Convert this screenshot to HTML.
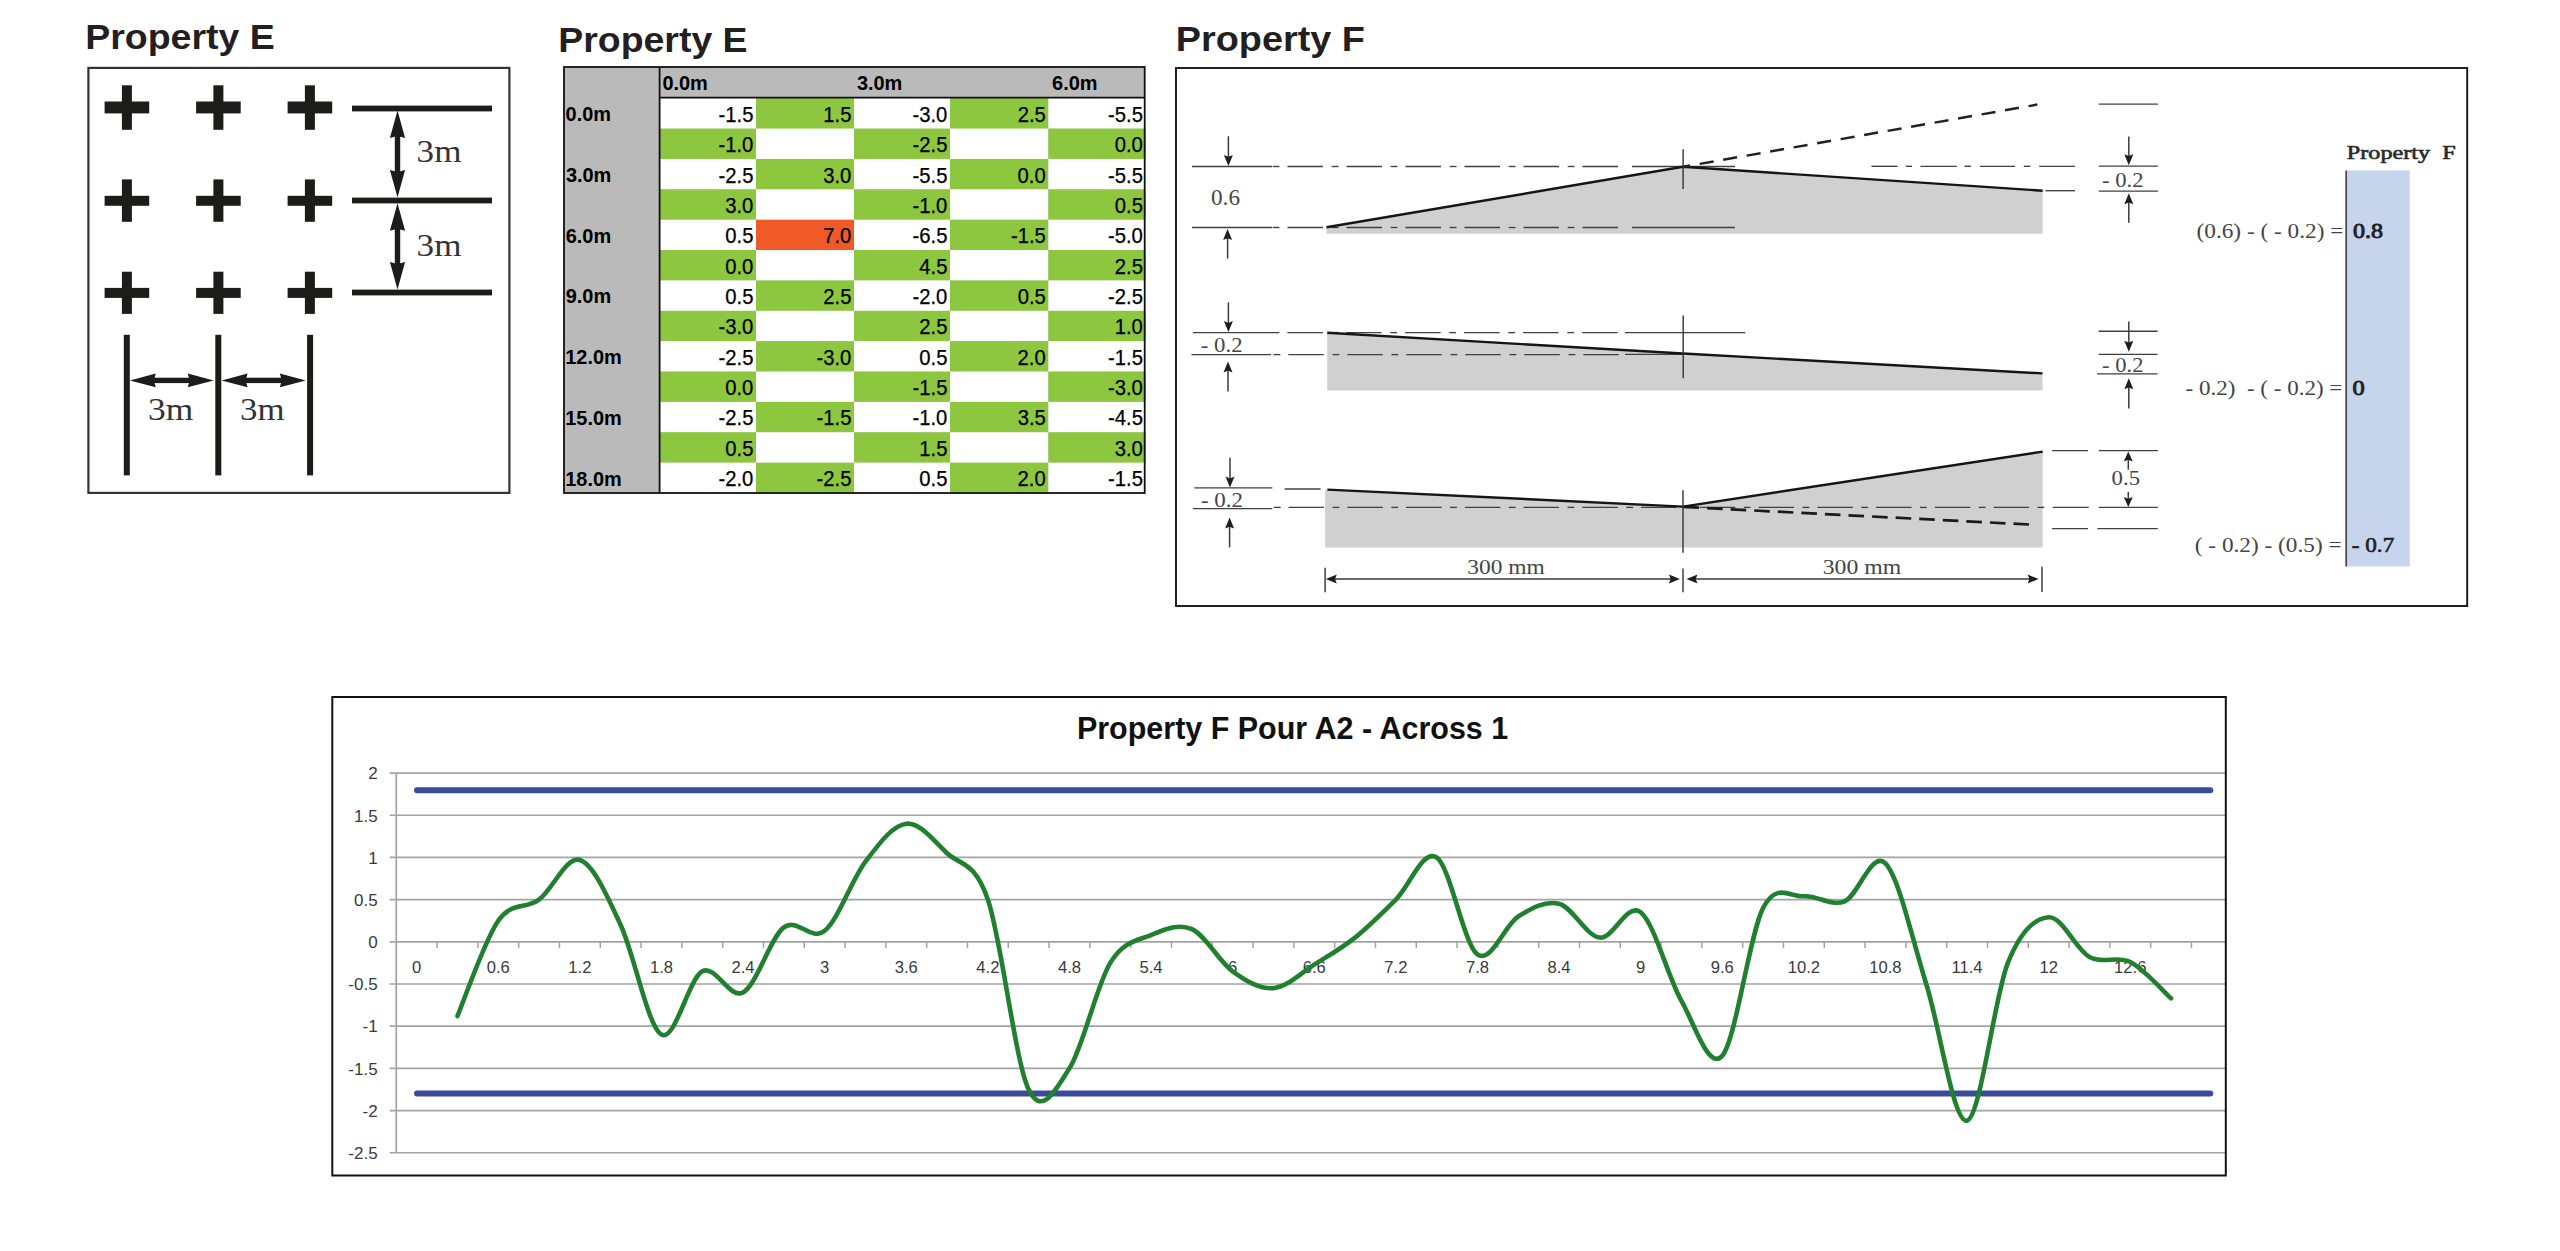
<!DOCTYPE html>
<html><head><meta charset="utf-8"><title>Property E / F</title>
<style>
html,body{margin:0;padding:0;background:#fff;}
body{width:2560px;height:1251px;overflow:hidden;font-family:"Liberation Sans",sans-serif;}
svg{display:block;}
</style></head>
<body>
<svg width="2560" height="1251" viewBox="0 0 2560 1251">
<rect width="2560" height="1251" fill="#fff"/>
<text x="85.16" y="49" font-family="'Liberation Sans', sans-serif" font-size="34.5" font-weight="bold" fill="#231f20" textLength="189.63" lengthAdjust="spacingAndGlyphs" >Property E</text>
<text x="558.27" y="51.8" font-family="'Liberation Sans', sans-serif" font-size="34.5" font-weight="bold" fill="#231f20" textLength="189.33" lengthAdjust="spacingAndGlyphs" >Property E</text>
<text x="1175.84" y="50.7" font-family="'Liberation Sans', sans-serif" font-size="34.5" font-weight="bold" fill="#231f20" textLength="189.02" lengthAdjust="spacingAndGlyphs" >Property F</text>
<rect x="88.4" y="67.9" width="421" height="425.0" fill="none" stroke="#333" stroke-width="2.2"/>
<rect x="104.6" y="101.5" width="44.6" height="11.9" fill="#1e1b1b" />
<rect x="121.9" y="85.3" width="10" height="44.5" fill="#1e1b1b" />
<rect x="196.1" y="101.5" width="44.6" height="11.9" fill="#1e1b1b" />
<rect x="213.4" y="85.3" width="10" height="44.5" fill="#1e1b1b" />
<rect x="287.6" y="101.5" width="44.6" height="11.9" fill="#1e1b1b" />
<rect x="304.9" y="85.3" width="10" height="44.5" fill="#1e1b1b" />
<rect x="104.6" y="195.8" width="44.6" height="10" fill="#1e1b1b" />
<rect x="121.9" y="179.4" width="10" height="42.4" fill="#1e1b1b" />
<rect x="196.1" y="195.8" width="44.6" height="10" fill="#1e1b1b" />
<rect x="213.4" y="179.4" width="10" height="42.4" fill="#1e1b1b" />
<rect x="287.6" y="195.8" width="44.6" height="10" fill="#1e1b1b" />
<rect x="304.9" y="179.4" width="10" height="42.4" fill="#1e1b1b" />
<rect x="104.6" y="287.9" width="44.6" height="10" fill="#1e1b1b" />
<rect x="121.9" y="271.7" width="10" height="42.2" fill="#1e1b1b" />
<rect x="196.1" y="287.9" width="44.6" height="10" fill="#1e1b1b" />
<rect x="213.4" y="271.7" width="10" height="42.2" fill="#1e1b1b" />
<rect x="287.6" y="287.9" width="44.6" height="10" fill="#1e1b1b" />
<rect x="304.9" y="271.7" width="10" height="42.2" fill="#1e1b1b" />
<rect x="352" y="105.6" width="140" height="5.8" fill="#1e1b1b" />
<rect x="352" y="197.6" width="140" height="5.8" fill="#1e1b1b" />
<rect x="352" y="289.6" width="140" height="5.8" fill="#1e1b1b" />
<rect x="394.8" y="132" width="5.4" height="44" fill="#1e1b1b" />
<polygon points="397.5,110.5 389.9,138 397.5,136 405.1,138" fill="#1e1b1b" />
<polygon points="397.5,197.5 389.9,170 397.5,172 405.1,170" fill="#1e1b1b" />
<rect x="394.8" y="224.7" width="5.4" height="43.4" fill="#1e1b1b" />
<polygon points="397.5,203.2 389.9,230.7 397.5,228.7 405.1,230.7" fill="#1e1b1b" />
<polygon points="397.5,289.6 389.9,262.1 397.5,264.1 405.1,262.1" fill="#1e1b1b" />
<rect x="123.8" y="334.8" width="6" height="140.6" fill="#1e1b1b" />
<rect x="215.3" y="334.8" width="6" height="140.6" fill="#1e1b1b" />
<rect x="307.1" y="334.8" width="6" height="140.6" fill="#1e1b1b" />
<rect x="149.8" y="377.7" width="43.9" height="5.4" fill="#1e1b1b" />
<polygon points="129.8,380.4 155.8,373.5 153.8,380.4 155.8,387.3" fill="#1e1b1b" />
<polygon points="213.7,380.4 187.7,373.5 189.7,380.4 187.7,387.3" fill="#1e1b1b" />
<rect x="241.6" y="377.7" width="44.2" height="5.4" fill="#1e1b1b" />
<polygon points="221.6,380.4 247.6,373.5 245.6,380.4 247.6,387.3" fill="#1e1b1b" />
<polygon points="305.8,380.4 279.8,373.5 281.8,380.4 279.8,387.3" fill="#1e1b1b" />
<text x="416.62" y="162.4" font-family="'Liberation Serif', serif" font-size="31.7" font-weight="normal" fill="#333333" textLength="44.83" lengthAdjust="spacingAndGlyphs" >3m</text>
<text x="416.62" y="256" font-family="'Liberation Serif', serif" font-size="31.7" font-weight="normal" fill="#333333" textLength="44.83" lengthAdjust="spacingAndGlyphs" >3m</text>
<text x="148.01" y="420" font-family="'Liberation Serif', serif" font-size="31.7" font-weight="normal" fill="#333333" textLength="45.25" lengthAdjust="spacingAndGlyphs" >3m</text>
<text x="240.13" y="420" font-family="'Liberation Serif', serif" font-size="31.7" font-weight="normal" fill="#333333" textLength="44.51" lengthAdjust="spacingAndGlyphs" >3m</text>
<rect x="564" y="67" width="580.7" height="426" fill="#bababa" />
<rect x="659.6" y="98.2" width="96.4" height="30.67" fill="#ffffff" />
<rect x="756" y="98.2" width="98" height="30.67" fill="#8dc63f" />
<rect x="854" y="98.2" width="96" height="30.67" fill="#ffffff" />
<rect x="950" y="98.2" width="98.4" height="30.67" fill="#8dc63f" />
<rect x="1048.4" y="98.2" width="97.1" height="30.67" fill="#ffffff" />
<rect x="659.6" y="128.57" width="96.4" height="30.67" fill="#8dc63f" />
<rect x="756" y="128.57" width="98" height="30.67" fill="#ffffff" />
<rect x="854" y="128.57" width="96" height="30.67" fill="#8dc63f" />
<rect x="950" y="128.57" width="98.4" height="30.67" fill="#ffffff" />
<rect x="1048.4" y="128.57" width="97.1" height="30.67" fill="#8dc63f" />
<rect x="659.6" y="158.94" width="96.4" height="30.67" fill="#ffffff" />
<rect x="756" y="158.94" width="98" height="30.67" fill="#8dc63f" />
<rect x="854" y="158.94" width="96" height="30.67" fill="#ffffff" />
<rect x="950" y="158.94" width="98.4" height="30.67" fill="#8dc63f" />
<rect x="1048.4" y="158.94" width="97.1" height="30.67" fill="#ffffff" />
<rect x="659.6" y="189.31" width="96.4" height="30.67" fill="#8dc63f" />
<rect x="756" y="189.31" width="98" height="30.67" fill="#ffffff" />
<rect x="854" y="189.31" width="96" height="30.67" fill="#8dc63f" />
<rect x="950" y="189.31" width="98.4" height="30.67" fill="#ffffff" />
<rect x="1048.4" y="189.31" width="97.1" height="30.67" fill="#8dc63f" />
<rect x="659.6" y="219.68" width="96.4" height="30.67" fill="#ffffff" />
<rect x="756" y="219.68" width="98" height="30.67" fill="#f05a28" />
<rect x="854" y="219.68" width="96" height="30.67" fill="#ffffff" />
<rect x="950" y="219.68" width="98.4" height="30.67" fill="#8dc63f" />
<rect x="1048.4" y="219.68" width="97.1" height="30.67" fill="#ffffff" />
<rect x="659.6" y="250.05" width="96.4" height="30.67" fill="#8dc63f" />
<rect x="756" y="250.05" width="98" height="30.67" fill="#ffffff" />
<rect x="854" y="250.05" width="96" height="30.67" fill="#8dc63f" />
<rect x="950" y="250.05" width="98.4" height="30.67" fill="#ffffff" />
<rect x="1048.4" y="250.05" width="97.1" height="30.67" fill="#8dc63f" />
<rect x="659.6" y="280.42" width="96.4" height="30.67" fill="#ffffff" />
<rect x="756" y="280.42" width="98" height="30.67" fill="#8dc63f" />
<rect x="854" y="280.42" width="96" height="30.67" fill="#ffffff" />
<rect x="950" y="280.42" width="98.4" height="30.67" fill="#8dc63f" />
<rect x="1048.4" y="280.42" width="97.1" height="30.67" fill="#ffffff" />
<rect x="659.6" y="310.78" width="96.4" height="30.67" fill="#8dc63f" />
<rect x="756" y="310.78" width="98" height="30.67" fill="#ffffff" />
<rect x="854" y="310.78" width="96" height="30.67" fill="#8dc63f" />
<rect x="950" y="310.78" width="98.4" height="30.67" fill="#ffffff" />
<rect x="1048.4" y="310.78" width="97.1" height="30.67" fill="#8dc63f" />
<rect x="659.6" y="341.15" width="96.4" height="30.67" fill="#ffffff" />
<rect x="756" y="341.15" width="98" height="30.67" fill="#8dc63f" />
<rect x="854" y="341.15" width="96" height="30.67" fill="#ffffff" />
<rect x="950" y="341.15" width="98.4" height="30.67" fill="#8dc63f" />
<rect x="1048.4" y="341.15" width="97.1" height="30.67" fill="#ffffff" />
<rect x="659.6" y="371.52" width="96.4" height="30.67" fill="#8dc63f" />
<rect x="756" y="371.52" width="98" height="30.67" fill="#ffffff" />
<rect x="854" y="371.52" width="96" height="30.67" fill="#8dc63f" />
<rect x="950" y="371.52" width="98.4" height="30.67" fill="#ffffff" />
<rect x="1048.4" y="371.52" width="97.1" height="30.67" fill="#8dc63f" />
<rect x="659.6" y="401.89" width="96.4" height="30.67" fill="#ffffff" />
<rect x="756" y="401.89" width="98" height="30.67" fill="#8dc63f" />
<rect x="854" y="401.89" width="96" height="30.67" fill="#ffffff" />
<rect x="950" y="401.89" width="98.4" height="30.67" fill="#8dc63f" />
<rect x="1048.4" y="401.89" width="97.1" height="30.67" fill="#ffffff" />
<rect x="659.6" y="432.26" width="96.4" height="30.67" fill="#8dc63f" />
<rect x="756" y="432.26" width="98" height="30.67" fill="#ffffff" />
<rect x="854" y="432.26" width="96" height="30.67" fill="#8dc63f" />
<rect x="950" y="432.26" width="98.4" height="30.67" fill="#ffffff" />
<rect x="1048.4" y="432.26" width="97.1" height="30.67" fill="#8dc63f" />
<rect x="659.6" y="462.63" width="96.4" height="30.67" fill="#ffffff" />
<rect x="756" y="462.63" width="98" height="30.67" fill="#8dc63f" />
<rect x="854" y="462.63" width="96" height="30.67" fill="#ffffff" />
<rect x="950" y="462.63" width="98.4" height="30.67" fill="#8dc63f" />
<rect x="1048.4" y="462.63" width="97.1" height="30.67" fill="#ffffff" />
<text x="718.61" y="121.8" font-family="'Liberation Sans', sans-serif" font-size="21.3" font-weight="normal" fill="#000" textLength="34.87" lengthAdjust="spacingAndGlyphs" stroke="#000" stroke-width="0.25">-1.5</text>
<text x="823.28" y="121.8" font-family="'Liberation Sans', sans-serif" font-size="21.3" font-weight="normal" fill="#000" textLength="28.13" lengthAdjust="spacingAndGlyphs" stroke="#000" stroke-width="0.25">1.5</text>
<text x="912.5" y="121.8" font-family="'Liberation Sans', sans-serif" font-size="21.3" font-weight="normal" fill="#000" textLength="34.87" lengthAdjust="spacingAndGlyphs" stroke="#000" stroke-width="0.25">-3.0</text>
<text x="1017.68" y="121.8" font-family="'Liberation Sans', sans-serif" font-size="21.3" font-weight="normal" fill="#000" textLength="28.13" lengthAdjust="spacingAndGlyphs" stroke="#000" stroke-width="0.25">2.5</text>
<text x="1108.11" y="121.8" font-family="'Liberation Sans', sans-serif" font-size="21.3" font-weight="normal" fill="#000" textLength="34.87" lengthAdjust="spacingAndGlyphs" stroke="#000" stroke-width="0.25">-5.5</text>
<text x="565.6" y="121.2" font-family="'Liberation Sans', sans-serif" font-size="21" font-weight="bold" fill="#000" textLength="45.47" lengthAdjust="spacingAndGlyphs" >0.0m</text>
<text x="718.5" y="152.17" font-family="'Liberation Sans', sans-serif" font-size="21.3" font-weight="normal" fill="#000" textLength="34.87" lengthAdjust="spacingAndGlyphs" stroke="#000" stroke-width="0.25">-1.0</text>
<text x="912.61" y="152.17" font-family="'Liberation Sans', sans-serif" font-size="21.3" font-weight="normal" fill="#000" textLength="34.87" lengthAdjust="spacingAndGlyphs" stroke="#000" stroke-width="0.25">-2.5</text>
<text x="1114.68" y="152.17" font-family="'Liberation Sans', sans-serif" font-size="21.3" font-weight="normal" fill="#000" textLength="28.13" lengthAdjust="spacingAndGlyphs" stroke="#000" stroke-width="0.25">0.0</text>
<text x="718.61" y="182.54" font-family="'Liberation Sans', sans-serif" font-size="21.3" font-weight="normal" fill="#000" textLength="34.87" lengthAdjust="spacingAndGlyphs" stroke="#000" stroke-width="0.25">-2.5</text>
<text x="823.18" y="182.54" font-family="'Liberation Sans', sans-serif" font-size="21.3" font-weight="normal" fill="#000" textLength="28.13" lengthAdjust="spacingAndGlyphs" stroke="#000" stroke-width="0.25">3.0</text>
<text x="912.61" y="182.54" font-family="'Liberation Sans', sans-serif" font-size="21.3" font-weight="normal" fill="#000" textLength="34.87" lengthAdjust="spacingAndGlyphs" stroke="#000" stroke-width="0.25">-5.5</text>
<text x="1017.58" y="182.54" font-family="'Liberation Sans', sans-serif" font-size="21.3" font-weight="normal" fill="#000" textLength="28.13" lengthAdjust="spacingAndGlyphs" stroke="#000" stroke-width="0.25">0.0</text>
<text x="1108.11" y="182.54" font-family="'Liberation Sans', sans-serif" font-size="21.3" font-weight="normal" fill="#000" textLength="34.87" lengthAdjust="spacingAndGlyphs" stroke="#000" stroke-width="0.25">-5.5</text>
<text x="565.9" y="181.94" font-family="'Liberation Sans', sans-serif" font-size="21" font-weight="bold" fill="#000" textLength="45.47" lengthAdjust="spacingAndGlyphs" >3.0m</text>
<text x="725.18" y="212.91" font-family="'Liberation Sans', sans-serif" font-size="21.3" font-weight="normal" fill="#000" textLength="28.13" lengthAdjust="spacingAndGlyphs" stroke="#000" stroke-width="0.25">3.0</text>
<text x="912.5" y="212.91" font-family="'Liberation Sans', sans-serif" font-size="21.3" font-weight="normal" fill="#000" textLength="34.87" lengthAdjust="spacingAndGlyphs" stroke="#000" stroke-width="0.25">-1.0</text>
<text x="1114.78" y="212.91" font-family="'Liberation Sans', sans-serif" font-size="21.3" font-weight="normal" fill="#000" textLength="28.13" lengthAdjust="spacingAndGlyphs" stroke="#000" stroke-width="0.25">0.5</text>
<text x="725.28" y="243.28" font-family="'Liberation Sans', sans-serif" font-size="21.3" font-weight="normal" fill="#000" textLength="28.13" lengthAdjust="spacingAndGlyphs" stroke="#000" stroke-width="0.25">0.5</text>
<text x="823.18" y="243.28" font-family="'Liberation Sans', sans-serif" font-size="21.3" font-weight="normal" fill="#000" textLength="28.13" lengthAdjust="spacingAndGlyphs" stroke="#000" stroke-width="0.25">7.0</text>
<text x="912.61" y="243.28" font-family="'Liberation Sans', sans-serif" font-size="21.3" font-weight="normal" fill="#000" textLength="34.87" lengthAdjust="spacingAndGlyphs" stroke="#000" stroke-width="0.25">-6.5</text>
<text x="1011.01" y="243.28" font-family="'Liberation Sans', sans-serif" font-size="21.3" font-weight="normal" fill="#000" textLength="34.87" lengthAdjust="spacingAndGlyphs" stroke="#000" stroke-width="0.25">-1.5</text>
<text x="1108" y="243.28" font-family="'Liberation Sans', sans-serif" font-size="21.3" font-weight="normal" fill="#000" textLength="34.87" lengthAdjust="spacingAndGlyphs" stroke="#000" stroke-width="0.25">-5.0</text>
<text x="565.7" y="242.68" font-family="'Liberation Sans', sans-serif" font-size="21" font-weight="bold" fill="#000" textLength="45.47" lengthAdjust="spacingAndGlyphs" >6.0m</text>
<text x="725.18" y="273.65" font-family="'Liberation Sans', sans-serif" font-size="21.3" font-weight="normal" fill="#000" textLength="28.13" lengthAdjust="spacingAndGlyphs" stroke="#000" stroke-width="0.25">0.0</text>
<text x="919.28" y="273.65" font-family="'Liberation Sans', sans-serif" font-size="21.3" font-weight="normal" fill="#000" textLength="28.13" lengthAdjust="spacingAndGlyphs" stroke="#000" stroke-width="0.25">4.5</text>
<text x="1114.78" y="273.65" font-family="'Liberation Sans', sans-serif" font-size="21.3" font-weight="normal" fill="#000" textLength="28.13" lengthAdjust="spacingAndGlyphs" stroke="#000" stroke-width="0.25">2.5</text>
<text x="725.28" y="304.02" font-family="'Liberation Sans', sans-serif" font-size="21.3" font-weight="normal" fill="#000" textLength="28.13" lengthAdjust="spacingAndGlyphs" stroke="#000" stroke-width="0.25">0.5</text>
<text x="823.28" y="304.02" font-family="'Liberation Sans', sans-serif" font-size="21.3" font-weight="normal" fill="#000" textLength="28.13" lengthAdjust="spacingAndGlyphs" stroke="#000" stroke-width="0.25">2.5</text>
<text x="912.5" y="304.02" font-family="'Liberation Sans', sans-serif" font-size="21.3" font-weight="normal" fill="#000" textLength="34.87" lengthAdjust="spacingAndGlyphs" stroke="#000" stroke-width="0.25">-2.0</text>
<text x="1017.68" y="304.02" font-family="'Liberation Sans', sans-serif" font-size="21.3" font-weight="normal" fill="#000" textLength="28.13" lengthAdjust="spacingAndGlyphs" stroke="#000" stroke-width="0.25">0.5</text>
<text x="1108.11" y="304.02" font-family="'Liberation Sans', sans-serif" font-size="21.3" font-weight="normal" fill="#000" textLength="34.87" lengthAdjust="spacingAndGlyphs" stroke="#000" stroke-width="0.25">-2.5</text>
<text x="565.7" y="303.42" font-family="'Liberation Sans', sans-serif" font-size="21" font-weight="bold" fill="#000" textLength="45.47" lengthAdjust="spacingAndGlyphs" >9.0m</text>
<text x="718.5" y="334.38" font-family="'Liberation Sans', sans-serif" font-size="21.3" font-weight="normal" fill="#000" textLength="34.87" lengthAdjust="spacingAndGlyphs" stroke="#000" stroke-width="0.25">-3.0</text>
<text x="919.28" y="334.38" font-family="'Liberation Sans', sans-serif" font-size="21.3" font-weight="normal" fill="#000" textLength="28.13" lengthAdjust="spacingAndGlyphs" stroke="#000" stroke-width="0.25">2.5</text>
<text x="1114.68" y="334.38" font-family="'Liberation Sans', sans-serif" font-size="21.3" font-weight="normal" fill="#000" textLength="28.13" lengthAdjust="spacingAndGlyphs" stroke="#000" stroke-width="0.25">1.0</text>
<text x="718.61" y="364.75" font-family="'Liberation Sans', sans-serif" font-size="21.3" font-weight="normal" fill="#000" textLength="34.87" lengthAdjust="spacingAndGlyphs" stroke="#000" stroke-width="0.25">-2.5</text>
<text x="816.5" y="364.75" font-family="'Liberation Sans', sans-serif" font-size="21.3" font-weight="normal" fill="#000" textLength="34.87" lengthAdjust="spacingAndGlyphs" stroke="#000" stroke-width="0.25">-3.0</text>
<text x="919.28" y="364.75" font-family="'Liberation Sans', sans-serif" font-size="21.3" font-weight="normal" fill="#000" textLength="28.13" lengthAdjust="spacingAndGlyphs" stroke="#000" stroke-width="0.25">0.5</text>
<text x="1017.58" y="364.75" font-family="'Liberation Sans', sans-serif" font-size="21.3" font-weight="normal" fill="#000" textLength="28.13" lengthAdjust="spacingAndGlyphs" stroke="#000" stroke-width="0.25">2.0</text>
<text x="1108.11" y="364.75" font-family="'Liberation Sans', sans-serif" font-size="21.3" font-weight="normal" fill="#000" textLength="34.87" lengthAdjust="spacingAndGlyphs" stroke="#000" stroke-width="0.25">-1.5</text>
<text x="565.2" y="364.15" font-family="'Liberation Sans', sans-serif" font-size="21" font-weight="bold" fill="#000" textLength="56.57" lengthAdjust="spacingAndGlyphs" >12.0m</text>
<text x="725.18" y="395.12" font-family="'Liberation Sans', sans-serif" font-size="21.3" font-weight="normal" fill="#000" textLength="28.13" lengthAdjust="spacingAndGlyphs" stroke="#000" stroke-width="0.25">0.0</text>
<text x="912.61" y="395.12" font-family="'Liberation Sans', sans-serif" font-size="21.3" font-weight="normal" fill="#000" textLength="34.87" lengthAdjust="spacingAndGlyphs" stroke="#000" stroke-width="0.25">-1.5</text>
<text x="1108" y="395.12" font-family="'Liberation Sans', sans-serif" font-size="21.3" font-weight="normal" fill="#000" textLength="34.87" lengthAdjust="spacingAndGlyphs" stroke="#000" stroke-width="0.25">-3.0</text>
<text x="718.61" y="425.49" font-family="'Liberation Sans', sans-serif" font-size="21.3" font-weight="normal" fill="#000" textLength="34.87" lengthAdjust="spacingAndGlyphs" stroke="#000" stroke-width="0.25">-2.5</text>
<text x="816.61" y="425.49" font-family="'Liberation Sans', sans-serif" font-size="21.3" font-weight="normal" fill="#000" textLength="34.87" lengthAdjust="spacingAndGlyphs" stroke="#000" stroke-width="0.25">-1.5</text>
<text x="912.5" y="425.49" font-family="'Liberation Sans', sans-serif" font-size="21.3" font-weight="normal" fill="#000" textLength="34.87" lengthAdjust="spacingAndGlyphs" stroke="#000" stroke-width="0.25">-1.0</text>
<text x="1017.68" y="425.49" font-family="'Liberation Sans', sans-serif" font-size="21.3" font-weight="normal" fill="#000" textLength="28.13" lengthAdjust="spacingAndGlyphs" stroke="#000" stroke-width="0.25">3.5</text>
<text x="1108.11" y="425.49" font-family="'Liberation Sans', sans-serif" font-size="21.3" font-weight="normal" fill="#000" textLength="34.87" lengthAdjust="spacingAndGlyphs" stroke="#000" stroke-width="0.25">-4.5</text>
<text x="565.2" y="424.89" font-family="'Liberation Sans', sans-serif" font-size="21" font-weight="bold" fill="#000" textLength="56.57" lengthAdjust="spacingAndGlyphs" >15.0m</text>
<text x="725.28" y="455.86" font-family="'Liberation Sans', sans-serif" font-size="21.3" font-weight="normal" fill="#000" textLength="28.13" lengthAdjust="spacingAndGlyphs" stroke="#000" stroke-width="0.25">0.5</text>
<text x="919.28" y="455.86" font-family="'Liberation Sans', sans-serif" font-size="21.3" font-weight="normal" fill="#000" textLength="28.13" lengthAdjust="spacingAndGlyphs" stroke="#000" stroke-width="0.25">1.5</text>
<text x="1114.68" y="455.86" font-family="'Liberation Sans', sans-serif" font-size="21.3" font-weight="normal" fill="#000" textLength="28.13" lengthAdjust="spacingAndGlyphs" stroke="#000" stroke-width="0.25">3.0</text>
<text x="718.5" y="486.23" font-family="'Liberation Sans', sans-serif" font-size="21.3" font-weight="normal" fill="#000" textLength="34.87" lengthAdjust="spacingAndGlyphs" stroke="#000" stroke-width="0.25">-2.0</text>
<text x="816.61" y="486.23" font-family="'Liberation Sans', sans-serif" font-size="21.3" font-weight="normal" fill="#000" textLength="34.87" lengthAdjust="spacingAndGlyphs" stroke="#000" stroke-width="0.25">-2.5</text>
<text x="919.28" y="486.23" font-family="'Liberation Sans', sans-serif" font-size="21.3" font-weight="normal" fill="#000" textLength="28.13" lengthAdjust="spacingAndGlyphs" stroke="#000" stroke-width="0.25">0.5</text>
<text x="1017.58" y="486.23" font-family="'Liberation Sans', sans-serif" font-size="21.3" font-weight="normal" fill="#000" textLength="28.13" lengthAdjust="spacingAndGlyphs" stroke="#000" stroke-width="0.25">2.0</text>
<text x="1108.11" y="486.23" font-family="'Liberation Sans', sans-serif" font-size="21.3" font-weight="normal" fill="#000" textLength="34.87" lengthAdjust="spacingAndGlyphs" stroke="#000" stroke-width="0.25">-1.5</text>
<text x="565.2" y="485.63" font-family="'Liberation Sans', sans-serif" font-size="21" font-weight="bold" fill="#000" textLength="56.57" lengthAdjust="spacingAndGlyphs" >18.0m</text>
<text x="662.4" y="90.3" font-family="'Liberation Sans', sans-serif" font-size="21" font-weight="bold" fill="#000" textLength="45.47" lengthAdjust="spacingAndGlyphs" >0.0m</text>
<text x="856.9" y="90.3" font-family="'Liberation Sans', sans-serif" font-size="21" font-weight="bold" fill="#000" textLength="45.47" lengthAdjust="spacingAndGlyphs" >3.0m</text>
<text x="1052.1" y="90.3" font-family="'Liberation Sans', sans-serif" font-size="21" font-weight="bold" fill="#000" textLength="45.47" lengthAdjust="spacingAndGlyphs" >6.0m</text>
<line x1="659.6" y1="67" x2="659.6" y2="493" stroke="#111" stroke-width="1.8" />
<line x1="659.6" y1="97.6" x2="1144.7" y2="97.6" stroke="#111" stroke-width="1.6" />
<rect x="564" y="67" width="580.7" height="426" fill="none" stroke="#111" stroke-width="1.8"/>
<rect x="1176" y="68" width="1291.2" height="538" fill="none" stroke="#151515" stroke-width="1.9"/>
<polygon points="1326.5,227.3 1683,166.8 2042.7,190.7 2042.7,233.8 1326.5,233.8" fill="#d0d0d0" />
<line x1="1192" y1="166.5" x2="1272" y2="166.5" stroke="#404040" stroke-width="1.35" />
<line x1="1272.7" y1="166.5" x2="1279.5" y2="166.5" stroke="#404040" stroke-width="1.35" />
<line x1="1287.5" y1="166.5" x2="1323" y2="166.5" stroke="#404040" stroke-width="1.35" />
<line x1="1331.7" y1="166.5" x2="1338.5" y2="166.5" stroke="#404040" stroke-width="1.35" />
<line x1="1346.5" y1="166.5" x2="1382" y2="166.5" stroke="#404040" stroke-width="1.35" />
<line x1="1390.7" y1="166.5" x2="1397.5" y2="166.5" stroke="#404040" stroke-width="1.35" />
<line x1="1405.5" y1="166.5" x2="1441" y2="166.5" stroke="#404040" stroke-width="1.35" />
<line x1="1449.7" y1="166.5" x2="1456.5" y2="166.5" stroke="#404040" stroke-width="1.35" />
<line x1="1464.5" y1="166.5" x2="1500" y2="166.5" stroke="#404040" stroke-width="1.35" />
<line x1="1508.7" y1="166.5" x2="1515.5" y2="166.5" stroke="#404040" stroke-width="1.35" />
<line x1="1523.5" y1="166.5" x2="1559" y2="166.5" stroke="#404040" stroke-width="1.35" />
<line x1="1567.7" y1="166.5" x2="1574.5" y2="166.5" stroke="#404040" stroke-width="1.35" />
<line x1="1582.5" y1="166.5" x2="1618" y2="166.5" stroke="#404040" stroke-width="1.35" />
<line x1="1632" y1="166.5" x2="1735" y2="166.5" stroke="#404040" stroke-width="1.35" />
<line x1="1871.5" y1="166.3" x2="1897.5" y2="166.3" stroke="#404040" stroke-width="1.35" />
<line x1="1906" y1="166.3" x2="1912" y2="166.3" stroke="#404040" stroke-width="1.35" />
<line x1="1920.5" y1="166.3" x2="1956.9" y2="166.3" stroke="#404040" stroke-width="1.35" />
<line x1="1964.5" y1="166.3" x2="1971" y2="166.3" stroke="#404040" stroke-width="1.35" />
<line x1="1979.9" y1="166.3" x2="2015" y2="166.3" stroke="#404040" stroke-width="1.35" />
<line x1="2023.8" y1="166.3" x2="2030.3" y2="166.3" stroke="#404040" stroke-width="1.35" />
<line x1="2039.2" y1="166.3" x2="2075" y2="166.3" stroke="#404040" stroke-width="1.35" />
<line x1="1192" y1="227.5" x2="1272" y2="227.5" stroke="#404040" stroke-width="1.35" />
<line x1="1272.7" y1="227.5" x2="1279.5" y2="227.5" stroke="#404040" stroke-width="1.35" />
<line x1="1287.5" y1="227.5" x2="1323" y2="227.5" stroke="#404040" stroke-width="1.35" />
<line x1="1331.7" y1="227.5" x2="1338.5" y2="227.5" stroke="#404040" stroke-width="1.35" />
<line x1="1346.5" y1="227.5" x2="1382" y2="227.5" stroke="#404040" stroke-width="1.35" />
<line x1="1390.7" y1="227.5" x2="1397.5" y2="227.5" stroke="#404040" stroke-width="1.35" />
<line x1="1405.5" y1="227.5" x2="1441" y2="227.5" stroke="#404040" stroke-width="1.35" />
<line x1="1449.7" y1="227.5" x2="1456.5" y2="227.5" stroke="#404040" stroke-width="1.35" />
<line x1="1464.5" y1="227.5" x2="1500" y2="227.5" stroke="#404040" stroke-width="1.35" />
<line x1="1508.7" y1="227.5" x2="1515.5" y2="227.5" stroke="#404040" stroke-width="1.35" />
<line x1="1523.5" y1="227.5" x2="1559" y2="227.5" stroke="#404040" stroke-width="1.35" />
<line x1="1567.7" y1="227.5" x2="1574.5" y2="227.5" stroke="#404040" stroke-width="1.35" />
<line x1="1582.5" y1="227.5" x2="1618" y2="227.5" stroke="#404040" stroke-width="1.35" />
<line x1="1632" y1="227.5" x2="1735" y2="227.5" stroke="#404040" stroke-width="1.35" />
<line x1="2045.5" y1="190.7" x2="2075" y2="190.7" stroke="#404040" stroke-width="1.35" />
<polyline points="1326.5,227.3 1683,166.8 2042.7,190.7" fill="none" stroke="#151515" stroke-width="2.45" stroke-linejoin="round"/>
<line x1="1683" y1="166.8" x2="2037.3" y2="104.6" stroke="#222" stroke-width="2.5" stroke-dasharray="14.1 9.75" stroke-dashoffset="6.9"/>
<line x1="1683.1" y1="149.2" x2="1683.1" y2="189" stroke="#333" stroke-width="1.4" />
<line x1="1228.4" y1="136.2" x2="1228.4" y2="158.9" stroke="#3a3a3a" stroke-width="1.5" />
<polygon points="1228.4,165.9 1223.9,154.9 1228.4,156.7 1232.9,154.9" fill="#1e1e1e" />
<line x1="1227.6" y1="258.5" x2="1227.6" y2="236.1" stroke="#3a3a3a" stroke-width="1.5" />
<polygon points="1227.6,229.1 1223.1,240.1 1227.6,238.3 1232.1,240.1" fill="#1e1e1e" />
<text x="1210.97" y="205.1" font-family="'Liberation Serif', serif" font-size="23.2" font-weight="normal" fill="#454545" textLength="29.03" lengthAdjust="spacingAndGlyphs" >0.6</text>
<line x1="2098.8" y1="104.1" x2="2157.9" y2="104.1" stroke="#404040" stroke-width="1.35" />
<line x1="2098.8" y1="166.1" x2="2157.9" y2="166.1" stroke="#404040" stroke-width="1.35" />
<line x1="2098.8" y1="191.1" x2="2157.9" y2="191.1" stroke="#404040" stroke-width="1.35" />
<line x1="2128.8" y1="136.6" x2="2128.8" y2="158.3" stroke="#3a3a3a" stroke-width="1.5" />
<polygon points="2128.8,165.3 2124.3,154.3 2128.8,156.1 2133.3,154.3" fill="#1e1e1e" />
<line x1="2128.8" y1="222.7" x2="2128.8" y2="200.2" stroke="#3a3a3a" stroke-width="1.5" />
<polygon points="2128.8,193.2 2124.3,204.2 2128.8,202.4 2133.3,204.2" fill="#1e1e1e" />
<text x="2102.11" y="186.6" font-family="'Liberation Serif', serif" font-size="21" font-weight="normal" fill="#454545" textLength="41.39" lengthAdjust="spacingAndGlyphs" >- 0.2</text>
<polygon points="1327.2,332.8 1683,353.5 2042.5,373.4 2042.5,390.6 1327.2,390.6" fill="#d0d0d0" />
<line x1="1193" y1="332.6" x2="1279.3" y2="332.6" stroke="#404040" stroke-width="1.35" />
<line x1="1287.4" y1="332.6" x2="1322.9" y2="332.6" stroke="#404040" stroke-width="1.35" />
<line x1="1331.3" y1="332.6" x2="1338.1" y2="332.6" stroke="#404040" stroke-width="1.35" />
<line x1="1346.1" y1="332.6" x2="1381.6" y2="332.6" stroke="#404040" stroke-width="1.35" />
<line x1="1390.3" y1="332.6" x2="1397.1" y2="332.6" stroke="#404040" stroke-width="1.35" />
<line x1="1405.1" y1="332.6" x2="1440.6" y2="332.6" stroke="#404040" stroke-width="1.35" />
<line x1="1449.3" y1="332.6" x2="1456.1" y2="332.6" stroke="#404040" stroke-width="1.35" />
<line x1="1464.1" y1="332.6" x2="1499.6" y2="332.6" stroke="#404040" stroke-width="1.35" />
<line x1="1508.3" y1="332.6" x2="1515.1" y2="332.6" stroke="#404040" stroke-width="1.35" />
<line x1="1523.1" y1="332.6" x2="1558.6" y2="332.6" stroke="#404040" stroke-width="1.35" />
<line x1="1567.3" y1="332.6" x2="1574.1" y2="332.6" stroke="#404040" stroke-width="1.35" />
<line x1="1582.1" y1="332.6" x2="1617.6" y2="332.6" stroke="#404040" stroke-width="1.35" />
<line x1="1625" y1="332.6" x2="1745.2" y2="332.6" stroke="#404040" stroke-width="1.35" />
<line x1="1191.5" y1="354.6" x2="1271.1" y2="354.6" stroke="#404040" stroke-width="1.35" />
<line x1="1273.5" y1="354.6" x2="1280.3" y2="354.6" stroke="#404040" stroke-width="1.35" />
<line x1="1288.3" y1="354.6" x2="1323.8" y2="354.6" stroke="#404040" stroke-width="1.35" />
<line x1="1332.5" y1="354.6" x2="1339.3" y2="354.6" stroke="#404040" stroke-width="1.35" />
<line x1="1347.3" y1="354.6" x2="1382.8" y2="354.6" stroke="#404040" stroke-width="1.35" />
<line x1="1391.5" y1="354.6" x2="1398.3" y2="354.6" stroke="#404040" stroke-width="1.35" />
<line x1="1406.3" y1="354.6" x2="1441.8" y2="354.6" stroke="#404040" stroke-width="1.35" />
<line x1="1450.5" y1="354.6" x2="1457.3" y2="354.6" stroke="#404040" stroke-width="1.35" />
<line x1="1465.3" y1="354.6" x2="1500.8" y2="354.6" stroke="#404040" stroke-width="1.35" />
<line x1="1509.5" y1="354.6" x2="1516.3" y2="354.6" stroke="#404040" stroke-width="1.35" />
<line x1="1524.3" y1="354.6" x2="1559.8" y2="354.6" stroke="#404040" stroke-width="1.35" />
<line x1="1568.5" y1="354.6" x2="1575.3" y2="354.6" stroke="#404040" stroke-width="1.35" />
<line x1="1583.3" y1="354.6" x2="1618.8" y2="354.6" stroke="#404040" stroke-width="1.35" />
<line x1="1625" y1="354.4" x2="1683" y2="354.4" stroke="#404040" stroke-width="1.35" />
<polyline points="1327.2,332.8 1683,353.5 2042.5,373.4" fill="none" stroke="#151515" stroke-width="2.45" stroke-linejoin="round"/>
<line x1="1683.2" y1="315.5" x2="1683.2" y2="378.2" stroke="#333" stroke-width="1.4" />
<line x1="1228.4" y1="302.4" x2="1228.4" y2="325.1" stroke="#3a3a3a" stroke-width="1.5" />
<polygon points="1228.4,332.1 1223.9,321.1 1228.4,322.9 1232.9,321.1" fill="#1e1e1e" />
<line x1="1228" y1="391.6" x2="1228" y2="368.4" stroke="#3a3a3a" stroke-width="1.5" />
<polygon points="1228,361.4 1223.5,372.4 1228,370.6 1232.5,372.4" fill="#1e1e1e" />
<text x="1200.8" y="352.3" font-family="'Liberation Serif', serif" font-size="22" font-weight="normal" fill="#454545" textLength="41.81" lengthAdjust="spacingAndGlyphs" >- 0.2</text>
<line x1="2098.6" y1="331.2" x2="2157.6" y2="331.2" stroke="#404040" stroke-width="1.35" />
<line x1="2098.6" y1="354.4" x2="2157.6" y2="354.4" stroke="#404040" stroke-width="1.35" />
<line x1="2097.1" y1="373.8" x2="2157.6" y2="373.8" stroke="#404040" stroke-width="1.35" />
<line x1="2128.8" y1="321.6" x2="2128.8" y2="344.8" stroke="#3a3a3a" stroke-width="1.5" />
<polygon points="2128.8,351.8 2124.3,340.8 2128.8,342.6 2133.3,340.8" fill="#1e1e1e" />
<line x1="2128.8" y1="408.4" x2="2128.8" y2="385.2" stroke="#3a3a3a" stroke-width="1.5" />
<polygon points="2128.8,378.2 2124.3,389.2 2128.8,387.4 2133.3,389.2" fill="#1e1e1e" />
<text x="2102.11" y="371.9" font-family="'Liberation Serif', serif" font-size="22" font-weight="normal" fill="#454545" textLength="41.28" lengthAdjust="spacingAndGlyphs" >- 0.2</text>
<polygon points="1325.1,489.6 1683,506.6 2042.7,451.6 2042.7,547.6 1325.1,547.6" fill="#d0d0d0" />
<line x1="1194.3" y1="487.8" x2="1272.4" y2="487.8" stroke="#404040" stroke-width="1.35" />
<line x1="1284.6" y1="489" x2="1320.6" y2="489" stroke="#404040" stroke-width="1.35" />
<line x1="1192.9" y1="508.6" x2="1272.4" y2="508.6" stroke="#404040" stroke-width="1.35" />
<line x1="1273.8" y1="507.4" x2="1280.6" y2="507.4" stroke="#404040" stroke-width="1.35" />
<line x1="1288.6" y1="507.4" x2="1324.1" y2="507.4" stroke="#404040" stroke-width="1.35" />
<line x1="1332.55" y1="507.4" x2="1339.35" y2="507.4" stroke="#404040" stroke-width="1.35" />
<line x1="1347.35" y1="507.4" x2="1382.85" y2="507.4" stroke="#404040" stroke-width="1.35" />
<line x1="1391.3" y1="507.4" x2="1398.1" y2="507.4" stroke="#404040" stroke-width="1.35" />
<line x1="1406.1" y1="507.4" x2="1441.6" y2="507.4" stroke="#404040" stroke-width="1.35" />
<line x1="1450.05" y1="507.4" x2="1456.85" y2="507.4" stroke="#404040" stroke-width="1.35" />
<line x1="1464.85" y1="507.4" x2="1500.35" y2="507.4" stroke="#404040" stroke-width="1.35" />
<line x1="1508.8" y1="507.4" x2="1515.6" y2="507.4" stroke="#404040" stroke-width="1.35" />
<line x1="1523.6" y1="507.4" x2="1559.1" y2="507.4" stroke="#404040" stroke-width="1.35" />
<line x1="1567.55" y1="507.4" x2="1574.35" y2="507.4" stroke="#404040" stroke-width="1.35" />
<line x1="1582.35" y1="507.4" x2="1617.85" y2="507.4" stroke="#404040" stroke-width="1.35" />
<line x1="1626.3" y1="507.4" x2="1633.1" y2="507.4" stroke="#404040" stroke-width="1.35" />
<line x1="1641.1" y1="507.4" x2="1676.6" y2="507.4" stroke="#404040" stroke-width="1.35" />
<line x1="1685.05" y1="507.4" x2="1691.85" y2="507.4" stroke="#404040" stroke-width="1.35" />
<line x1="1699.85" y1="507.4" x2="1735.35" y2="507.4" stroke="#404040" stroke-width="1.35" />
<line x1="1743.8" y1="507.4" x2="1750.6" y2="507.4" stroke="#404040" stroke-width="1.35" />
<line x1="1758.6" y1="507.4" x2="1794.1" y2="507.4" stroke="#404040" stroke-width="1.35" />
<line x1="1802.55" y1="507.4" x2="1809.35" y2="507.4" stroke="#404040" stroke-width="1.35" />
<line x1="1817.35" y1="507.4" x2="1852.85" y2="507.4" stroke="#404040" stroke-width="1.35" />
<line x1="1861.3" y1="507.4" x2="1868.1" y2="507.4" stroke="#404040" stroke-width="1.35" />
<line x1="1876.1" y1="507.4" x2="1911.6" y2="507.4" stroke="#404040" stroke-width="1.35" />
<line x1="1920.05" y1="507.4" x2="1926.85" y2="507.4" stroke="#404040" stroke-width="1.35" />
<line x1="1934.85" y1="507.4" x2="1970.35" y2="507.4" stroke="#404040" stroke-width="1.35" />
<line x1="1978.8" y1="507.4" x2="1985.6" y2="507.4" stroke="#404040" stroke-width="1.35" />
<line x1="1993.6" y1="507.4" x2="2029.1" y2="507.4" stroke="#404040" stroke-width="1.35" />
<line x1="2037.55" y1="507.4" x2="2044.35" y2="507.4" stroke="#404040" stroke-width="1.35" />
<line x1="2052.8" y1="507.4" x2="2088.8" y2="507.4" stroke="#404040" stroke-width="1.35" />
<line x1="2098.8" y1="507.4" x2="2157.8" y2="507.4" stroke="#404040" stroke-width="1.35" />
<line x1="2052.1" y1="450.6" x2="2088.1" y2="450.6" stroke="#404040" stroke-width="1.35" />
<line x1="2098.8" y1="450.6" x2="2157.8" y2="450.6" stroke="#404040" stroke-width="1.35" />
<line x1="2052.1" y1="528.6" x2="2088.1" y2="528.6" stroke="#404040" stroke-width="1.35" />
<line x1="2097.4" y1="528.6" x2="2157.8" y2="528.6" stroke="#404040" stroke-width="1.35" />
<line x1="1683.5" y1="506.9" x2="2031.2" y2="524.6" stroke="#1a1a1a" stroke-width="2.7" stroke-dasharray="15.6 8"/>
<polyline points="1327.4,489.6 1683,506.6 2042.7,451.6" fill="none" stroke="#151515" stroke-width="2.45" stroke-linejoin="round"/>
<line x1="1683" y1="490.3" x2="1683" y2="552.8" stroke="#333" stroke-width="1.4" />
<line x1="1230" y1="457.7" x2="1230" y2="480.6" stroke="#3a3a3a" stroke-width="1.5" />
<polygon points="1230,487.6 1225.5,476.6 1230,478.4 1234.5,476.6" fill="#1e1e1e" />
<line x1="1229.6" y1="547.4" x2="1229.6" y2="524.5" stroke="#3a3a3a" stroke-width="1.5" />
<polygon points="1229.6,517.5 1225.1,528.5 1229.6,526.7 1234.1,528.5" fill="#1e1e1e" />
<text x="1200.9" y="506.6" font-family="'Liberation Serif', serif" font-size="21" font-weight="normal" fill="#454545" textLength="42.12" lengthAdjust="spacingAndGlyphs" >- 0.2</text>
<line x1="2128.3" y1="469.6" x2="2128.3" y2="457.6" stroke="#3a3a3a" stroke-width="1.5" />
<polygon points="2128.3,451.6 2123.8,461.6 2128.3,459.8 2132.8,461.6" fill="#1e1e1e" />
<line x1="2128.3" y1="491.9" x2="2128.3" y2="501" stroke="#3a3a3a" stroke-width="1.5" />
<polygon points="2128.3,507 2123.8,497 2128.3,498.8 2132.8,497" fill="#1e1e1e" />
<text x="2111.59" y="485.4" font-family="'Liberation Serif', serif" font-size="21.3" font-weight="normal" fill="#454545" textLength="28.42" lengthAdjust="spacingAndGlyphs" >0.5</text>
<line x1="1325.1" y1="567.7" x2="1325.1" y2="592.2" stroke="#333" stroke-width="1.4" />
<line x1="1683" y1="568.4" x2="1683" y2="592.2" stroke="#333" stroke-width="1.4" />
<line x1="2042" y1="566.7" x2="2042" y2="591.9" stroke="#333" stroke-width="1.4" />
<line x1="1500" y1="579" x2="1332.8" y2="579" stroke="#3a3a3a" stroke-width="1.5" />
<polygon points="1325.8,579 1336.8,574.6 1335,579 1336.8,583.4" fill="#1e1e1e" />
<line x1="1500" y1="579" x2="1672.9" y2="579" stroke="#3a3a3a" stroke-width="1.5" />
<polygon points="1679.9,579 1668.9,574.6 1670.7,579 1668.9,583.4" fill="#1e1e1e" />
<line x1="1860" y1="579" x2="1693.5" y2="579" stroke="#3a3a3a" stroke-width="1.5" />
<polygon points="1686.5,579 1697.5,574.6 1695.7,579 1697.5,583.4" fill="#1e1e1e" />
<line x1="1860" y1="579" x2="2031.6" y2="579" stroke="#3a3a3a" stroke-width="1.5" />
<polygon points="2038.6,579 2027.6,574.6 2029.4,579 2027.6,583.4" fill="#1e1e1e" />
<text x="1467.24" y="574.2" font-family="'Liberation Serif', serif" font-size="21.7" font-weight="normal" fill="#454545" textLength="77.5" lengthAdjust="spacingAndGlyphs" >300 mm</text>
<text x="1822.73" y="574.2" font-family="'Liberation Serif', serif" font-size="21.7" font-weight="normal" fill="#454545" textLength="78.52" lengthAdjust="spacingAndGlyphs" >300 mm</text>
<rect x="2345.4" y="170.4" width="64.3" height="396" fill="#c6d4ec" />
<line x1="2346.2" y1="170.4" x2="2346.2" y2="566.4" stroke="#444" stroke-width="1.6" />
<text x="2346.87" y="158.7" font-family="'Liberation Serif', serif" font-size="18.6" font-weight="normal" fill="#2a2a2a" textLength="108.77" lengthAdjust="spacingAndGlyphs" stroke="#2a2a2a" stroke-width="0.6">Property&#160;&#160;F</text>
<text x="2196.55" y="238.4" font-family="'Liberation Serif', serif" font-size="20" font-weight="normal" fill="#454545" textLength="146.85" lengthAdjust="spacingAndGlyphs" >(0.6) - ( - 0.2) =</text>
<text x="2353.04" y="238.4" font-family="'Liberation Serif', serif" font-size="20" font-weight="normal" fill="#222" textLength="30.13" lengthAdjust="spacingAndGlyphs" stroke="#222" stroke-width="0.8">0.8</text>
<text x="2185.49" y="394.8" font-family="'Liberation Serif', serif" font-size="20" font-weight="normal" fill="#454545" textLength="156.89" lengthAdjust="spacingAndGlyphs" >- 0.2)&#160;&#160;- ( - 0.2) =</text>
<text x="2352.52" y="394.8" font-family="'Liberation Serif', serif" font-size="20" font-weight="normal" fill="#222" textLength="12.26" lengthAdjust="spacingAndGlyphs" stroke="#222" stroke-width="0.8">0</text>
<text x="2194.75" y="552.4" font-family="'Liberation Serif', serif" font-size="20" font-weight="normal" fill="#454545" textLength="146.85" lengthAdjust="spacingAndGlyphs" >( - 0.2) - (0.5) =</text>
<text x="2351.69" y="552.4" font-family="'Liberation Serif', serif" font-size="20" font-weight="normal" fill="#222" textLength="42.56" lengthAdjust="spacingAndGlyphs" stroke="#222" stroke-width="0.6">- 0.7</text>
<rect x="332.3" y="697" width="1893.5" height="478.5" fill="#fff"/>
<line x1="389.7" y1="773.04" x2="2225" y2="773.04" stroke="#a3a3a3" stroke-width="1.7" />
<line x1="389.7" y1="815.23" x2="2225" y2="815.23" stroke="#a3a3a3" stroke-width="1.7" />
<line x1="389.7" y1="857.42" x2="2225" y2="857.42" stroke="#a3a3a3" stroke-width="1.7" />
<line x1="389.7" y1="899.61" x2="2225" y2="899.61" stroke="#a3a3a3" stroke-width="1.7" />
<line x1="389.7" y1="941.8" x2="2225" y2="941.8" stroke="#a3a3a3" stroke-width="1.7" />
<line x1="389.7" y1="983.99" x2="2225" y2="983.99" stroke="#a3a3a3" stroke-width="1.7" />
<line x1="389.7" y1="1026.18" x2="2225" y2="1026.18" stroke="#a3a3a3" stroke-width="1.7" />
<line x1="389.7" y1="1068.37" x2="2225" y2="1068.37" stroke="#a3a3a3" stroke-width="1.7" />
<line x1="389.7" y1="1110.56" x2="2225" y2="1110.56" stroke="#a3a3a3" stroke-width="1.7" />
<line x1="389.7" y1="1152.75" x2="2225" y2="1152.75" stroke="#a3a3a3" stroke-width="1.7" />
<line x1="396.25" y1="773.04" x2="396.25" y2="1152.75" stroke="#a3a3a3" stroke-width="1.7" />
<line x1="437.05" y1="941.8" x2="437.05" y2="948.1" stroke="#a3a3a3" stroke-width="1.5" />
<line x1="477.85" y1="941.8" x2="477.85" y2="948.1" stroke="#a3a3a3" stroke-width="1.5" />
<line x1="518.65" y1="941.8" x2="518.65" y2="948.1" stroke="#a3a3a3" stroke-width="1.5" />
<line x1="559.45" y1="941.8" x2="559.45" y2="948.1" stroke="#a3a3a3" stroke-width="1.5" />
<line x1="600.25" y1="941.8" x2="600.25" y2="948.1" stroke="#a3a3a3" stroke-width="1.5" />
<line x1="641.05" y1="941.8" x2="641.05" y2="948.1" stroke="#a3a3a3" stroke-width="1.5" />
<line x1="681.85" y1="941.8" x2="681.85" y2="948.1" stroke="#a3a3a3" stroke-width="1.5" />
<line x1="722.65" y1="941.8" x2="722.65" y2="948.1" stroke="#a3a3a3" stroke-width="1.5" />
<line x1="763.45" y1="941.8" x2="763.45" y2="948.1" stroke="#a3a3a3" stroke-width="1.5" />
<line x1="804.25" y1="941.8" x2="804.25" y2="948.1" stroke="#a3a3a3" stroke-width="1.5" />
<line x1="845.05" y1="941.8" x2="845.05" y2="948.1" stroke="#a3a3a3" stroke-width="1.5" />
<line x1="885.85" y1="941.8" x2="885.85" y2="948.1" stroke="#a3a3a3" stroke-width="1.5" />
<line x1="926.65" y1="941.8" x2="926.65" y2="948.1" stroke="#a3a3a3" stroke-width="1.5" />
<line x1="967.45" y1="941.8" x2="967.45" y2="948.1" stroke="#a3a3a3" stroke-width="1.5" />
<line x1="1008.25" y1="941.8" x2="1008.25" y2="948.1" stroke="#a3a3a3" stroke-width="1.5" />
<line x1="1049.05" y1="941.8" x2="1049.05" y2="948.1" stroke="#a3a3a3" stroke-width="1.5" />
<line x1="1089.85" y1="941.8" x2="1089.85" y2="948.1" stroke="#a3a3a3" stroke-width="1.5" />
<line x1="1130.65" y1="941.8" x2="1130.65" y2="948.1" stroke="#a3a3a3" stroke-width="1.5" />
<line x1="1171.45" y1="941.8" x2="1171.45" y2="948.1" stroke="#a3a3a3" stroke-width="1.5" />
<line x1="1212.25" y1="941.8" x2="1212.25" y2="948.1" stroke="#a3a3a3" stroke-width="1.5" />
<line x1="1253.05" y1="941.8" x2="1253.05" y2="948.1" stroke="#a3a3a3" stroke-width="1.5" />
<line x1="1293.85" y1="941.8" x2="1293.85" y2="948.1" stroke="#a3a3a3" stroke-width="1.5" />
<line x1="1334.65" y1="941.8" x2="1334.65" y2="948.1" stroke="#a3a3a3" stroke-width="1.5" />
<line x1="1375.45" y1="941.8" x2="1375.45" y2="948.1" stroke="#a3a3a3" stroke-width="1.5" />
<line x1="1416.25" y1="941.8" x2="1416.25" y2="948.1" stroke="#a3a3a3" stroke-width="1.5" />
<line x1="1457.05" y1="941.8" x2="1457.05" y2="948.1" stroke="#a3a3a3" stroke-width="1.5" />
<line x1="1497.85" y1="941.8" x2="1497.85" y2="948.1" stroke="#a3a3a3" stroke-width="1.5" />
<line x1="1538.65" y1="941.8" x2="1538.65" y2="948.1" stroke="#a3a3a3" stroke-width="1.5" />
<line x1="1579.45" y1="941.8" x2="1579.45" y2="948.1" stroke="#a3a3a3" stroke-width="1.5" />
<line x1="1620.25" y1="941.8" x2="1620.25" y2="948.1" stroke="#a3a3a3" stroke-width="1.5" />
<line x1="1661.05" y1="941.8" x2="1661.05" y2="948.1" stroke="#a3a3a3" stroke-width="1.5" />
<line x1="1701.85" y1="941.8" x2="1701.85" y2="948.1" stroke="#a3a3a3" stroke-width="1.5" />
<line x1="1742.65" y1="941.8" x2="1742.65" y2="948.1" stroke="#a3a3a3" stroke-width="1.5" />
<line x1="1783.45" y1="941.8" x2="1783.45" y2="948.1" stroke="#a3a3a3" stroke-width="1.5" />
<line x1="1824.25" y1="941.8" x2="1824.25" y2="948.1" stroke="#a3a3a3" stroke-width="1.5" />
<line x1="1865.05" y1="941.8" x2="1865.05" y2="948.1" stroke="#a3a3a3" stroke-width="1.5" />
<line x1="1905.85" y1="941.8" x2="1905.85" y2="948.1" stroke="#a3a3a3" stroke-width="1.5" />
<line x1="1946.65" y1="941.8" x2="1946.65" y2="948.1" stroke="#a3a3a3" stroke-width="1.5" />
<line x1="1987.45" y1="941.8" x2="1987.45" y2="948.1" stroke="#a3a3a3" stroke-width="1.5" />
<line x1="2028.25" y1="941.8" x2="2028.25" y2="948.1" stroke="#a3a3a3" stroke-width="1.5" />
<line x1="2069.05" y1="941.8" x2="2069.05" y2="948.1" stroke="#a3a3a3" stroke-width="1.5" />
<line x1="2109.85" y1="941.8" x2="2109.85" y2="948.1" stroke="#a3a3a3" stroke-width="1.5" />
<line x1="2150.65" y1="941.8" x2="2150.65" y2="948.1" stroke="#a3a3a3" stroke-width="1.5" />
<line x1="2191.45" y1="941.8" x2="2191.45" y2="948.1" stroke="#a3a3a3" stroke-width="1.5" />
<text x="377.6" y="779.34" font-family="'Liberation Sans', sans-serif" font-size="17" font-weight="normal" fill="#3a3a3a" text-anchor="end" >2</text>
<text x="377.6" y="821.53" font-family="'Liberation Sans', sans-serif" font-size="17" font-weight="normal" fill="#3a3a3a" text-anchor="end" >1.5</text>
<text x="377.6" y="863.72" font-family="'Liberation Sans', sans-serif" font-size="17" font-weight="normal" fill="#3a3a3a" text-anchor="end" >1</text>
<text x="377.6" y="905.91" font-family="'Liberation Sans', sans-serif" font-size="17" font-weight="normal" fill="#3a3a3a" text-anchor="end" >0.5</text>
<text x="377.6" y="948.1" font-family="'Liberation Sans', sans-serif" font-size="17" font-weight="normal" fill="#3a3a3a" text-anchor="end" >0</text>
<text x="377.6" y="990.29" font-family="'Liberation Sans', sans-serif" font-size="17" font-weight="normal" fill="#3a3a3a" text-anchor="end" >-0.5</text>
<text x="377.6" y="1032.48" font-family="'Liberation Sans', sans-serif" font-size="17" font-weight="normal" fill="#3a3a3a" text-anchor="end" >-1</text>
<text x="377.6" y="1074.67" font-family="'Liberation Sans', sans-serif" font-size="17" font-weight="normal" fill="#3a3a3a" text-anchor="end" >-1.5</text>
<text x="377.6" y="1116.86" font-family="'Liberation Sans', sans-serif" font-size="17" font-weight="normal" fill="#3a3a3a" text-anchor="end" >-2</text>
<text x="377.6" y="1159.05" font-family="'Liberation Sans', sans-serif" font-size="17" font-weight="normal" fill="#3a3a3a" text-anchor="end" >-2.5</text>
<text x="416.65" y="973" font-family="'Liberation Sans', sans-serif" font-size="16.6" font-weight="normal" fill="#3a3a3a" text-anchor="middle" >0</text>
<text x="498.25" y="973" font-family="'Liberation Sans', sans-serif" font-size="16.6" font-weight="normal" fill="#3a3a3a" text-anchor="middle" >0.6</text>
<text x="579.85" y="973" font-family="'Liberation Sans', sans-serif" font-size="16.6" font-weight="normal" fill="#3a3a3a" text-anchor="middle" >1.2</text>
<text x="661.45" y="973" font-family="'Liberation Sans', sans-serif" font-size="16.6" font-weight="normal" fill="#3a3a3a" text-anchor="middle" >1.8</text>
<text x="743.05" y="973" font-family="'Liberation Sans', sans-serif" font-size="16.6" font-weight="normal" fill="#3a3a3a" text-anchor="middle" >2.4</text>
<text x="824.65" y="973" font-family="'Liberation Sans', sans-serif" font-size="16.6" font-weight="normal" fill="#3a3a3a" text-anchor="middle" >3</text>
<text x="906.25" y="973" font-family="'Liberation Sans', sans-serif" font-size="16.6" font-weight="normal" fill="#3a3a3a" text-anchor="middle" >3.6</text>
<text x="987.85" y="973" font-family="'Liberation Sans', sans-serif" font-size="16.6" font-weight="normal" fill="#3a3a3a" text-anchor="middle" >4.2</text>
<text x="1069.45" y="973" font-family="'Liberation Sans', sans-serif" font-size="16.6" font-weight="normal" fill="#3a3a3a" text-anchor="middle" >4.8</text>
<text x="1151.05" y="973" font-family="'Liberation Sans', sans-serif" font-size="16.6" font-weight="normal" fill="#3a3a3a" text-anchor="middle" >5.4</text>
<text x="1232.65" y="973" font-family="'Liberation Sans', sans-serif" font-size="16.6" font-weight="normal" fill="#3a3a3a" text-anchor="middle" >6</text>
<text x="1314.25" y="973" font-family="'Liberation Sans', sans-serif" font-size="16.6" font-weight="normal" fill="#3a3a3a" text-anchor="middle" >6.6</text>
<text x="1395.85" y="973" font-family="'Liberation Sans', sans-serif" font-size="16.6" font-weight="normal" fill="#3a3a3a" text-anchor="middle" >7.2</text>
<text x="1477.45" y="973" font-family="'Liberation Sans', sans-serif" font-size="16.6" font-weight="normal" fill="#3a3a3a" text-anchor="middle" >7.8</text>
<text x="1559.05" y="973" font-family="'Liberation Sans', sans-serif" font-size="16.6" font-weight="normal" fill="#3a3a3a" text-anchor="middle" >8.4</text>
<text x="1640.65" y="973" font-family="'Liberation Sans', sans-serif" font-size="16.6" font-weight="normal" fill="#3a3a3a" text-anchor="middle" >9</text>
<text x="1722.25" y="973" font-family="'Liberation Sans', sans-serif" font-size="16.6" font-weight="normal" fill="#3a3a3a" text-anchor="middle" >9.6</text>
<text x="1803.85" y="973" font-family="'Liberation Sans', sans-serif" font-size="16.6" font-weight="normal" fill="#3a3a3a" text-anchor="middle" >10.2</text>
<text x="1885.45" y="973" font-family="'Liberation Sans', sans-serif" font-size="16.6" font-weight="normal" fill="#3a3a3a" text-anchor="middle" >10.8</text>
<text x="1967.05" y="973" font-family="'Liberation Sans', sans-serif" font-size="16.6" font-weight="normal" fill="#3a3a3a" text-anchor="middle" >11.4</text>
<text x="2048.65" y="973" font-family="'Liberation Sans', sans-serif" font-size="16.6" font-weight="normal" fill="#3a3a3a" text-anchor="middle" >12</text>
<text x="2130.25" y="973" font-family="'Liberation Sans', sans-serif" font-size="16.6" font-weight="normal" fill="#3a3a3a" text-anchor="middle" >12.6</text>
<line x1="417" y1="790.2" x2="2210.3" y2="790.2" stroke="#3c4a9e" stroke-width="6" stroke-linecap="round"/>
<line x1="417" y1="1093.4" x2="2210.3" y2="1093.4" stroke="#3c4a9e" stroke-width="6" stroke-linecap="round"/>
<path d="M457.45,1016.05 C464.25,1000.16 484.65,940.11 498.25,920.7 C511.85,901.3 525.45,909.74 539.05,899.61 C552.65,889.48 566.25,855.73 579.85,859.95 C593.45,864.17 607.05,895.81 620.65,924.92 C634.25,954.04 647.85,1026.88 661.45,1034.62 C675.05,1042.35 688.65,978.36 702.25,971.33 C715.85,964.3 729.45,999.74 743.05,992.43 C756.65,985.12 770.25,937.72 783.85,927.46 C797.45,917.19 811.05,941.8 824.65,930.83 C838.25,919.86 851.85,879.5 865.45,861.64 C879.05,843.78 892.65,825.07 906.25,823.67 C919.85,822.26 933.45,840.54 947.05,853.2 C960.65,865.86 974.25,860.23 987.85,899.61 C1001.45,938.99 1015.05,1061.34 1028.65,1089.46 C1042.25,1117.59 1055.85,1089.46 1069.45,1068.37 C1083.05,1047.27 1096.65,985.12 1110.25,962.89 C1123.85,940.67 1137.45,940.67 1151.05,935.05 C1164.65,929.42 1178.25,923.1 1191.85,929.14 C1205.45,935.19 1219.05,961.49 1232.65,971.33 C1246.25,981.18 1259.85,989.33 1273.45,988.21 C1287.05,987.08 1300.65,973.02 1314.25,964.58 C1327.85,956.14 1341.45,948.41 1355.05,937.58 C1368.65,926.75 1382.25,912.97 1395.85,899.61 C1409.45,886.25 1423.05,848.28 1436.65,857.42 C1450.25,866.56 1463.85,944.61 1477.45,954.46 C1491.05,964.3 1504.65,924.92 1518.25,916.49 C1531.85,908.05 1545.45,900.31 1559.05,903.83 C1572.65,907.34 1586.25,936.17 1599.85,937.58 C1613.45,938.99 1627.05,901.72 1640.65,912.27 C1654.25,922.81 1667.85,976.96 1681.45,1000.87 C1695.05,1024.77 1708.65,1071.18 1722.25,1055.71 C1735.85,1040.24 1749.45,934.63 1763.05,908.05 C1776.65,881.47 1790.25,897.36 1803.85,896.23 C1817.45,895.11 1831.05,906.78 1844.65,901.3 C1858.25,895.81 1871.85,849.54 1885.45,863.33 C1899.05,877.11 1912.65,941.1 1926.25,983.99 C1939.85,1026.88 1953.45,1124.2 1967.05,1120.69 C1980.65,1117.17 1994.25,996.79 2007.85,962.89 C2021.45,929 2035.05,918.31 2048.65,917.33 C2062.25,916.35 2075.85,949.53 2089.45,956.99 C2103.05,964.44 2116.65,955.16 2130.25,962.05 C2143.85,968.94 2164.25,992.29 2171.05,998.33" fill="none" stroke="#218030" stroke-width="4.6" stroke-linejoin="round" stroke-linecap="round"/>
<rect x="332.3" y="697" width="1893.5" height="478.5" fill="none" stroke="#111" stroke-width="2"/>
<text x="1076.92" y="738.6" font-family="'Liberation Sans', sans-serif" font-size="31.3" font-weight="bold" fill="#111" textLength="431.31" lengthAdjust="spacingAndGlyphs" >Property F Pour A2 - Across 1</text>
</svg>
</body></html>
